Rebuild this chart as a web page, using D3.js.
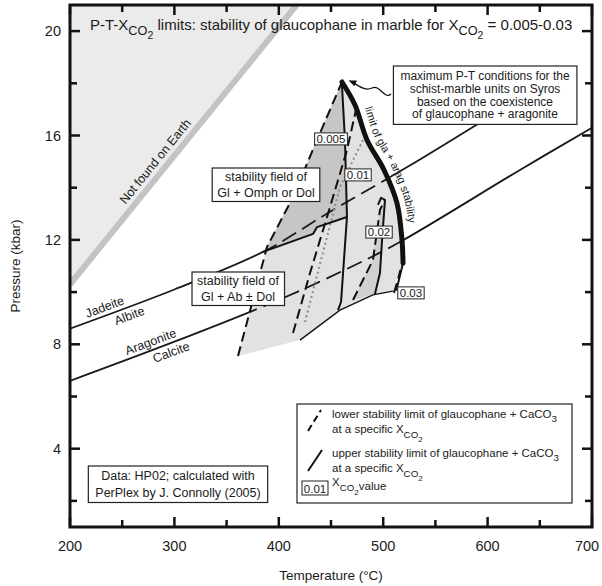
<!DOCTYPE html>
<html><head><meta charset="utf-8">
<script src="https://cdn.jsdelivr.net/npm/d3@7"></script>
<style>
body{margin:0;background:#fff}
text{font-family:"Liberation Sans",Arial,Helvetica,sans-serif;fill:#1b1b1b}
</style>
</head><body>
<svg id="chart" width="602" height="586"></svg>
<script>
// ---- axes ----
const tempDomain = [200, 700];
const presDomain = [1, 21];
const tempMajor = [200, 300, 400, 500, 600, 700];
const tempMinor = [250, 350, 450, 550, 650];
const presMajor = [4, 8, 12, 16, 20];
const presMinor = [2, 6, 10, 14, 18];

// ---- reaction curves (T °C, P kbar) ----
const jadeiteAlbite = [[200, 8.6], [300, 10.1], [384.9, 11.54], [450, 13.1], [523, 14.79], [593, 16.5]];
const aragoniteCalcite = [[200, 6.6], [300, 8.1], [400, 9.7], [471, 11.0], [516, 11.92], [631, 14.68], [700, 16.3]];
const notOnEarthLine = [[200, 10.3], [417, 21]];
const notOnEarthArea = [[200, 10.3], [417, 21], [200, 21]];

// limit of glaucophane + aragonite stability
const glaAragLimit = [[460.5, 18.05], [473.0, 17.17], [484.5, 15.83], [500.8, 14.68], [513.2, 13.41], [518.0, 12.0], [519.0, 11.11]];

// stability fields
const fieldAll = [[360.9, 7.55], [388.7, 11.73], [413.6, 13.64], [436.6, 15.83], [460.5, 18.05], [473, 17.17],
  [484.5, 15.83], [500.8, 14.68], [513.2, 13.41], [518, 12.0], [519, 11.11], [514.2, 10.66], [509.4, 10.04],
  [490.2, 9.89], [458.6, 9.31], [420.3, 8.16], [360.9, 7.55]];
const fieldOmph005 = [[384.9, 11.54], [388.7, 11.73], [413.6, 13.64], [436.6, 15.83], [460.5, 18.05],
  [463.4, 15.83], [465.3, 12.88], [436.6, 12.49], [432.8, 12.23], [384.9, 11.54]];
const field002 = [[471.1, 9.7], [490.2, 11.23], [496.9, 13.15], [501.7, 13.53], [498.9, 12.0], [496.9, 10.73], [492.1, 9.93]];

// lower stability limits (dashed), one per X_CO2
const lower005 = [[360.9, 7.55], [388.7, 11.73], [413.6, 13.64], [436.6, 15.83], [460.5, 18.05]];
const lower01 = [[413.6, 8.43], [429.9, 10.73], [446.2, 12.88], [465.3, 15.44], [473.9, 16.98]];
const lower02 = [[471.1, 9.7], [490.2, 11.23], [496.9, 13.15], [501.7, 13.53]];
const lower03 = [[510.3, 9.97], [514.2, 10.5], [516.5, 10.85]];
// upper stability limits (solid)
const upper005 = [[460.5, 17.93], [463.4, 15.83], [465.3, 12.88], [459.6, 9.62], [456.7, 9.31]];
const upper005Step = [[384.9, 11.54], [432.8, 12.23], [436.6, 12.49], [465.3, 12.88]];
const upper02 = [[495.0, 13.34], [497.9, 13.61], [501.7, 13.53], [498.9, 12.0], [496.9, 10.73], [492.1, 9.93]];
const upper03 = [[519.0, 11.11], [516.5, 10.7], [512.5, 10.05]];
const fieldBase = [[420.3, 8.16], [458.6, 9.31], [490.2, 9.89], [509.4, 10.04]];
const dotted = [[425.1, 8.85], [458.6, 14.03], [480.7, 15.83]];

// X_CO2 value tags
const xco2Tags = [
  {label: "0.005", T: 450, P: 15.87},
  {label: "0.01", T: 475.9, P: 14.49},
  {label: "0.02", T: 496, P: 12.3},
  {label: "0.03", T: 526.6, P: 9.97}
];

const svg = d3.select("#chart");
const X0 = 70, X1 = 592, Y0 = 527, Y1 = 5;
const x = d3.scaleLinear().domain(tempDomain).range([X0, X1]);
const y = d3.scaleLinear().domain(presDomain).range([Y0, Y1]);
const line = d3.line().x(d => x(d[0])).y(d => y(d[1]));
const curve = d3.line().x(d => x(d[0])).y(d => y(d[1])).curve(d3.curveCatmullRom.alpha(0.5));

const defs = svg.append("defs");
defs.append("clipPath").attr("id", "plot").append("rect")
  .attr("x", X0).attr("y", Y1).attr("width", X1 - X0).attr("height", Y0 - Y1);
// inside / outside of the stability fields
defs.append("clipPath").attr("id", "inField").append("path").datum(fieldAll).attr("d", line);
const outMask = defs.append("mask").attr("id", "outField");
outMask.append("rect").attr("x", 0).attr("y", 0).attr("width", 602).attr("height", 586).attr("fill", "#fff");
outMask.append("path").datum(fieldAll).attr("d", line).attr("fill", "#000");
defs.append("marker").attr("id", "arrow").attr("viewBox", "0 0 10 10")
  .attr("refX", 8).attr("refY", 5).attr("markerWidth", 6).attr("markerHeight", 6)
  .attr("orient", "auto").append("path").attr("d", "M0,1 L10,5 L0,9 Z").attr("fill", "#111");

const g = svg.append("g").attr("clip-path", "url(#plot)");

// region no longer reached on Earth
g.append("path").datum(notOnEarthArea).attr("d", line).attr("fill", "#ebebeb");
g.append("path").datum(notOnEarthLine).attr("d", line)
  .attr("stroke", "#c3c3c3").attr("stroke-width", 6).attr("fill", "none");

// stability fields
g.append("path").datum(fieldAll).attr("d", line).attr("fill", "#e2e2e2");
g.append("path").datum(fieldOmph005).attr("d", line).attr("fill", "#c6c6c6");
g.append("path").datum(field002).attr("d", line).attr("fill", "#d0d0d0");

// reaction lines: solid outside the fields, broken inside them
[jadeiteAlbite, aragoniteCalcite].forEach(d => {
  g.append("path").datum(d).attr("d", curve).attr("fill", "none").attr("mask", "url(#outField)")
    .attr("stroke", "#1a1a1a").attr("stroke-width", 1.8);
  g.append("g").attr("clip-path", "url(#inField)").append("path").datum(d).attr("d", curve)
    .attr("fill", "none").attr("stroke", "#1a1a1a").attr("stroke-width", 1.8)
    .attr("stroke-dasharray", "16,7");
});

// limits
g.append("path").datum(dotted).attr("d", line).attr("fill", "none")
  .attr("stroke", "#8a8a8a").attr("stroke-width", 2).attr("stroke-dasharray", "2,3");
[lower005, lower01, lower02, lower03].forEach(d => {
  g.append("path").datum(d).attr("d", line).attr("fill", "none")
    .attr("stroke", "#111").attr("stroke-width", 2).attr("stroke-dasharray", "10,5");
});
[upper005, upper005Step, upper02, upper03].forEach(d => {
  g.append("path").datum(d).attr("d", line).attr("fill", "none")
    .attr("stroke", "#111").attr("stroke-width", 2).attr("stroke-linejoin", "round");
});
g.append("path").datum(fieldBase).attr("d", line).attr("fill", "none")
  .attr("stroke", "#111").attr("stroke-width", 1.3);
g.append("path").datum(glaAragLimit).attr("d", curve).attr("fill", "none")
  .attr("stroke", "#111").attr("stroke-width", 5).attr("stroke-linecap", "round");

// text running along the right side of the limit curve
const offsetPts = glaAragLimit.map((d, i, a) => {
  const a0 = a[Math.max(0, i - 1)], a1 = a[Math.min(a.length - 1, i + 1)];
  const dx = x(a1[0]) - x(a0[0]), dy = y(a1[1]) - y(a0[1]);
  const len = Math.hypot(dx, dy);
  return [x(d[0]) + dy / len * 8, y(d[1]) - dx / len * 8];
});
defs.append("path").attr("id", "labelPath")
  .attr("d", d3.line().curve(d3.curveCatmullRom.alpha(0.5))(offsetPts));
svg.append("text").attr("font-size", 11)
  .append("textPath").attr("href", "#labelPath").attr("startOffset", 34)
  .text("limit of gla + arag stability");

// labels laid along a curve
function alongLabel(pts, T, txt, off, size) {
  const i = d3.bisector(d => d[0]).left(pts, T);
  const a = pts[Math.max(0, i - 1)], b = pts[Math.min(pts.length - 1, i)];
  const ang = Math.atan2(y(b[1]) - y(a[1]), x(b[0]) - x(a[0])) * 180 / Math.PI;
  const P = a[1] + (b[1] - a[1]) * (T - a[0]) / (b[0] - a[0]);
  svg.append("text").attr("font-size", size).attr("text-anchor", "middle")
    .attr("transform", `translate(${x(T)},${y(P)}) rotate(${ang}) translate(0,${off})`)
    .text(txt);
}
alongLabel(jadeiteAlbite, 236, "Jadeite", -4, 12.5);
alongLabel(jadeiteAlbite, 254, "Albite", 13, 12.5);
alongLabel(aragoniteCalcite, 280, "Aragonite", -4, 12.5);
alongLabel(aragoniteCalcite, 294, "Calcite", 13, 12.5);
alongLabel(notOnEarthLine, 290, "Not found on Earth", -7, 12.5);

// boxed notes
function boxedLines(cx, cy, lines, size, lh, padX, padY) {
  const grp = svg.append("g");
  const t = grp.append("text").attr("font-size", size).attr("text-anchor", "middle");
  lines.forEach((l, i) => t.append("tspan").attr("x", cx).attr("y", cy + i * lh).text(l));
  const bb = t.node().getBBox();
  grp.insert("rect", "text").attr("x", bb.x - padX).attr("y", bb.y - padY)
    .attr("width", bb.width + 2 * padX).attr("height", bb.height + 2 * padY)
    .attr("fill", "#fff").attr("stroke", "#222").attr("stroke-width", 1.2);
  return grp;
}
boxedLines(266, 181, ["stability field of", "Gl + Omph or Dol"], 12.5, 15.5, 5, 2);
boxedLines(238, 285, ["stability field of", "Gl + Ab \u00b1 Dol"], 12.5, 15.5, 5, 2);
boxedLines(178, 480, ["Data: HP02; calculated with", "PerPlex by J. Connolly (2005)"], 12.5, 16.5, 7, 3);
boxedLines(485, 80, ["maximum P-T conditions for the", "schist-marble units on Syros",
  "based on the coexistence", "of glaucophane + aragonite"], 12, 12.8, 7, 3);

xco2Tags.forEach(d => {
  const grp = svg.append("g");
  const t = grp.append("text").attr("font-size", 11.5).attr("text-anchor", "middle")
    .attr("x", x(d.T)).attr("y", y(d.P) + 4).text(d.label);
  const bb = t.node().getBBox();
  grp.insert("rect", "text").attr("x", bb.x - 2).attr("y", bb.y)
    .attr("width", bb.width + 4).attr("height", bb.height)
    .attr("fill", "#fff").attr("stroke", "#222").attr("stroke-width", 1);
});

// leader to the top of the limit curve
svg.append("path").attr("d", "M391,94 C384,100 380,84 372,88 S357,84 350,81")
  .attr("fill", "none").attr("stroke", "#111").attr("stroke-width", 1.3)
  .attr("marker-end", "url(#arrow)");

// X_CO2 with nested subscripts; the text after it returns to the baseline
function xco2(sel, after, afterDy) {
  sel.append("tspan").text("X");
  sel.append("tspan").attr("dy", 4.5).attr("font-size", "0.85em").text("CO");
  sel.append("tspan").attr("dy", 4).attr("font-size", "0.7em").text("2");
  if (after) sel.append("tspan").attr("dy", afterDy === undefined ? -8.5 : afterDy).text(after);
}
const title = svg.append("text").attr("x", 90).attr("y", 30).attr("font-size", 15);
title.append("tspan").text("P-T-");
xco2(title, " limits: stability of glaucophane in marble for ");
xco2(title, " = 0.005-0.03");

// legend
const lg = svg.append("g");
lg.append("rect").attr("x", 297).attr("y", 404).attr("width", 275).attr("height", 99)
  .attr("fill", "#fff").attr("stroke", "#222").attr("stroke-width", 1.2);
lg.append("line").attr("x1", 308).attr("y1", 431).attr("x2", 321).attr("y2", 410)
  .attr("stroke", "#111").attr("stroke-width", 2).attr("stroke-dasharray", "7,4");
lg.append("line").attr("x1", 308).attr("y1", 471).attr("x2", 322).attr("y2", 450)
  .attr("stroke", "#111").attr("stroke-width", 2);
const lt = yy => lg.append("text").attr("x", 332).attr("y", yy).attr("font-size", 11.5);
lt(418).text("lower stability limit of glaucophane + CaCO")
  .append("tspan").attr("dy", 3.5).attr("font-size", "0.85em").text("3");
xco2(lt(433).text("at a specific "));
lt(457).text("upper stability limit of glaucophane + CaCO")
  .append("tspan").attr("dy", 3.5).attr("font-size", "0.85em").text("3");
xco2(lt(472).text("at a specific "));
const tag = lg.append("g");
tag.append("rect").attr("x", 302).attr("y", 481).attr("width", 26).attr("height", 14)
  .attr("fill", "#fff").attr("stroke", "#222").attr("stroke-width", 1);
tag.append("text").attr("x", 315).attr("y", 492.5).attr("font-size", 11.5).attr("text-anchor", "middle").text("0.01");
const vt = lg.append("text").attr("x", 332).attr("y", 486).attr("font-size", 11.5);
xco2(vt, "value", -5);

// frame and ticks
const ax = svg.append("g").attr("stroke", "#111");
ax.append("rect").attr("x", X0).attr("y", Y1).attr("width", X1 - X0).attr("height", Y0 - Y1)
  .attr("fill", "none").attr("stroke-width", 3);
tempMajor.concat(tempMinor).forEach(t => {
  const len = tempMajor.includes(t) ? 10 : 7;
  ax.append("line").attr("x1", x(t)).attr("x2", x(t)).attr("y1", Y0).attr("y2", Y0 - len).attr("stroke-width", 2.5);
  ax.append("line").attr("x1", x(t)).attr("x2", x(t)).attr("y1", Y1).attr("y2", Y1 + len).attr("stroke-width", 2.5);
});
presMajor.concat(presMinor).forEach(p => {
  const len = presMajor.includes(p) ? 10 : 7;
  ax.append("line").attr("y1", y(p)).attr("y2", y(p)).attr("x1", X0).attr("x2", X0 + len).attr("stroke-width", 2.5);
  ax.append("line").attr("y1", y(p)).attr("y2", y(p)).attr("x1", X1).attr("x2", X1 - len).attr("stroke-width", 2.5);
});
tempMajor.forEach(t => svg.append("text").attr("x", Math.min(x(t), 587)).attr("y", 551).attr("font-size", 14.5)
  .attr("text-anchor", "middle").text(t));
presMajor.forEach(p => svg.append("text").attr("x", 61).attr("y", y(p) + 5).attr("font-size", 14.5)
  .attr("text-anchor", "end").text(p));
svg.append("text").attr("x", 331).attr("y", 580).attr("font-size", 13.5).attr("text-anchor", "middle")
  .text("Temperature  (\u00b0C)");
svg.append("text").attr("transform", "translate(20,266) rotate(-90)").attr("font-size", 13.5)
  .attr("text-anchor", "middle").text("Pressure (kbar)");
</script>
</body></html>
